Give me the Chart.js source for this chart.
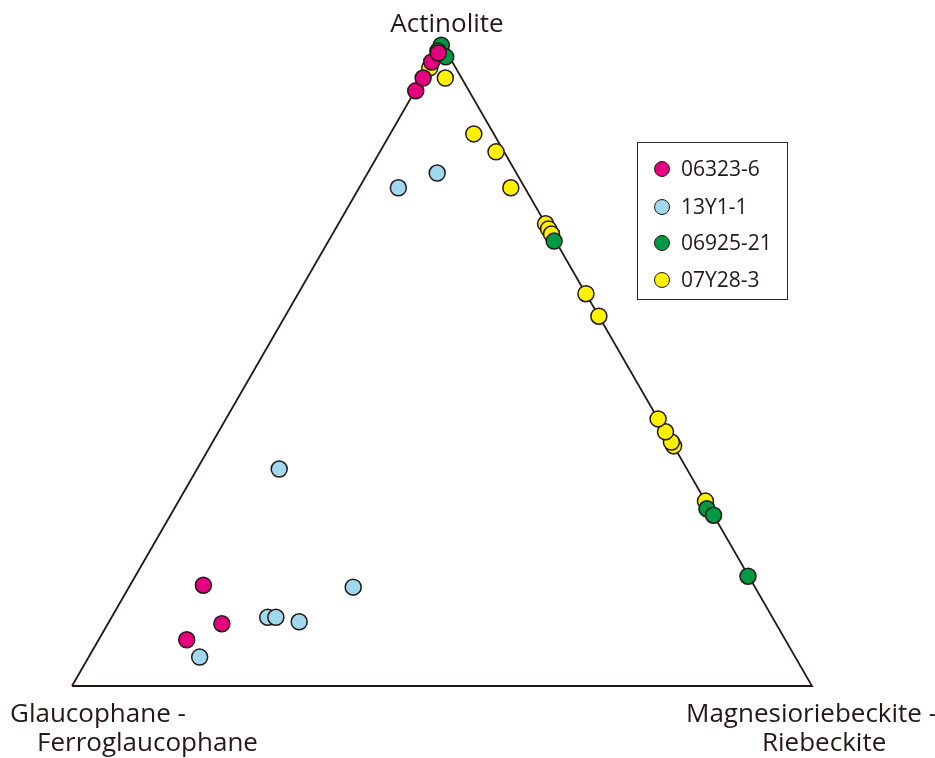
<!DOCTYPE html>
<html>
<head>
<meta charset="utf-8">
<script src="https://cdn.jsdelivr.net/npm/chart.js@4/dist/chart.umd.min.js"></script>
<style>
  html, body { margin: 0; padding: 0; background: #fff; }
  #wrap { position: relative; width: 935px; height: 758px; font-family: "Open Sans", sans-serif; color: #231815; }
  #chart { position: absolute; left: 0; top: 0; }
  .lbl { position: absolute; font-size: 26px; line-height: 28px; white-space: nowrap; }
  #legend { position: absolute; left: 637px; top: 142px; width: 151px; height: 158px; border: 1.6px solid #2a2a2a; box-sizing: border-box; }
  .item { position: absolute; left: 16px; font-size: 21px; line-height: 24px; white-space: nowrap; }
  .dot { display: inline-block; width: 16px; height: 16px; border-radius: 50%; border: 1.5px solid #231815; box-sizing: border-box; vertical-align: -1px; margin-right: 11px; }
</style>
</head>
<body>
<div id="wrap">
  <canvas id="chart" width="935" height="758"></canvas>
  <div class="lbl" style="left:447px; top:8px; transform:translateX(-50%);">Actinolite</div>
  <div class="lbl" style="left:10px; top:698px;">Glaucophane -</div>
  <div class="lbl" style="left:37px; top:727px;">Ferroglaucophane</div>
  <div class="lbl" style="left:686px; top:698px;">Magnesioriebeckite -</div>
  <div class="lbl" style="left:762px; top:727px;">Riebeckite</div>
  <div id="legend"></div>
</div>
<script>
// sample names and marker colours
const sampleNames = ['06323-6', '13Y1-1', '06925-21', '07Y28-3'];
const sampleColors = ['#e4007f', '#a0d8ef', '#009944', '#fff100'];

// ternary values in % : actinolite apex and magnesioriebeckite corner (glaucophane = rest)
const act06323 = [92.7, 94.7, 97.2, 98.6, 15.7, 9.7, 7.2];
const rbk06323 = [0.1, 0.1, 0.0, 0.2, 9.9, 15.4, 11.9];

const act13Y1 = [77.6, 79.9, 33.8, 15.4, 10.7, 10.7, 10.0, 4.5];
const rbk13Y1 = [5.3, 9.4, 11.1, 30.3, 21.1, 22.2, 25.7, 15.0];

const act06925 = [99.8, 98.9, 98.0, 69.3, 27.6, 26.6, 17.1];
const rbk06925 = [0.0, 0.0, 1.5, 30.5, 72.0, 73.4, 82.8];

const act07Y28 = [96.3, 94.7, 86.0, 83.2, 77.6, 72.0, 71.2, 70.4, 61.1, 57.6, 37.4, 38.0, 39.6, 41.6, 28.8];
const rbk07Y28 = [0.2, 3.1, 11.3, 15.7, 20.5, 28.0, 28.8, 29.6, 38.9, 42.4, 62.6, 62.0, 60.4, 58.4, 71.2];

// triangle corners: glaucophane, actinolite, riebeckite, back to start
const frameAct = [0, 100, 0, 0];
const frameRbk = [0, 0, 100, 0];

// ternary -> cartesian (base 0..100, height 0..100)
function toXY(act, rbk) {
    return act.map((a, i) => ({ x: rbk[i] + a / 2, y: a }));
}

const seriesData = [
    toXY(act06323, rbk06323),
    toXY(act13Y1, rbk13Y1),
    toXY(act06925, rbk06925),
    toXY(act07Y28, rbk07Y28)
];

const datasets = seriesData.map((pts, i) => ({
    label: sampleNames[i],
    data: pts,
    order: i + 1,
    clip: false,
    pointRadius: 8,
    pointBorderWidth: 1.5,
    pointBackgroundColor: sampleColors[i],
    pointBorderColor: '#231815',
    showLine: false
}));

datasets.push({
    label: 'frame',
    data: toXY(frameAct, frameRbk),
    order: 10,
    clip: false,
    showLine: true,
    borderColor: '#231815',
    borderWidth: 1.8,
    pointRadius: 0,
    fill: false
});

new Chart(document.getElementById('chart'), {
    type: 'scatter',
    data: { datasets: datasets },
    options: {
        responsive: false,
        devicePixelRatio: 1,
        animation: false,
        layout: { padding: { left: 72, right: 123, top: 44, bottom: 72 } },
        scales: {
            x: { type: 'linear', min: 0, max: 100, display: false },
            y: { type: 'linear', min: 0, max: 100, display: false }
        },
        plugins: {
            legend: { display: false },
            tooltip: { enabled: false }
        }
    }
});

// legend box
const legendTops = [13, 51, 87, 124];
const legend = document.getElementById('legend');
sampleNames.forEach((name, i) => {
    const row = document.createElement('div');
    row.className = 'item';
    row.style.top = legendTops[i] + 'px';
    row.innerHTML = `<span class="dot" style="background:${sampleColors[i]}"></span>${name}`;
    legend.appendChild(row);
});
</script>
</body>
</html>
